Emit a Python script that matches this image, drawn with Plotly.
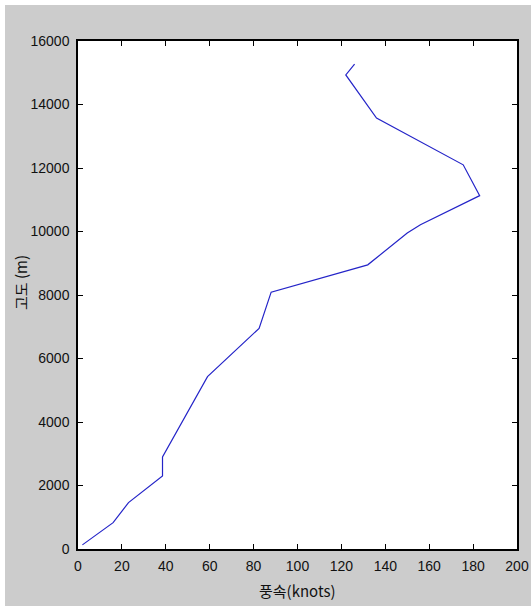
import plotly.graph_objects as go

# Wind speed (knots) vs altitude (m)
wind_speed = [2, 16, 23, 38.5, 38.5, 59, 82.5, 88, 132, 150, 156, 183, 175.5, 136, 122, 126]
altitude = [130, 830, 1460, 2300, 2900, 5430, 6950, 8090, 8950, 9950, 10210, 11130, 12100, 13570, 14930, 15270]

x_ticks = [0, 20, 40, 60, 80, 100, 120, 140, 160, 180, 200]
y_ticks = [0, 2000, 4000, 6000, 8000, 10000, 12000, 14000, 16000]

W, H = 531, 606
L, R, T, B = 78, 14, 41, 57
pw, ph = W - L - R, H - T - B

fig = go.Figure()
fig.add_trace(go.Scatter(x=wind_speed, y=altitude, mode="lines",
                         line=dict(color="#2424c8", width=1.2),
                         showlegend=False, hoverinfo="skip"))

tickfont = dict(family="Liberation Sans, Arial", size=14, color="#111111")

fig.update_layout(
    width=W, height=H,
    margin=dict(l=L, r=R, t=T, b=B, pad=0, autoexpand=False),
    paper_bgcolor="white",
    plot_bgcolor="white",
    shapes=[
        dict(type="rect", xref="paper", yref="paper",
             x0=(5 - L) / pw, x1=(W + 5 - L) / pw,
             y0=(T + ph - H - 5) / ph, y1=(T + ph - 5) / ph,
             fillcolor="#cccccc", line=dict(width=0), layer="below"),
        dict(type="rect", xref="paper", yref="paper",
             x0=0, x1=1, y0=0, y1=1,
             fillcolor="white", line=dict(width=0), layer="below"),
    ],
    xaxis=dict(range=[0, 200], tickvals=x_ticks, ticktext=[str(v) for v in x_ticks],
               showgrid=False, zeroline=False, showline=True, linecolor="black", linewidth=1.5,
               mirror="ticks", ticks="inside", ticklen=5, tickcolor="black", tickwidth=1,
               tickfont=tickfont, ticklabelstandoff=3, automargin=False, fixedrange=True),
    yaxis=dict(range=[0, 16000], tickvals=y_ticks, ticktext=[str(v) for v in y_ticks],
               showgrid=False, zeroline=False, showline=True, linecolor="black", linewidth=1.5,
               mirror="ticks", ticks="inside", ticklen=5, tickcolor="black", tickwidth=1,
               tickfont=tickfont, ticklabelstandoff=4, automargin=False, fixedrange=True),
    annotations=[
        dict(text="풍속(knots)", xref="paper", yref="paper", x=(297 - L) / pw, y=-(590 - (T + ph)) / ph,
             xanchor="center", yanchor="middle", showarrow=False,
             font=dict(family="Noto Sans CJK KR, Liberation Sans", size=15, color="#111111")),
        dict(text="고도 (m)", xref="paper", yref="paper", x=(20 - L) / pw, y=(T + ph - 283) / ph,
             xanchor="center", yanchor="middle", showarrow=False, textangle=-90,
             font=dict(family="Noto Sans CJK KR, Liberation Sans", size=15, color="#111111")),
    ],
)

fig.write_html("out.html", config={"displayModeBar": False},
               post_script="document.body.style.margin='0px';document.body.style.padding='0px';")
